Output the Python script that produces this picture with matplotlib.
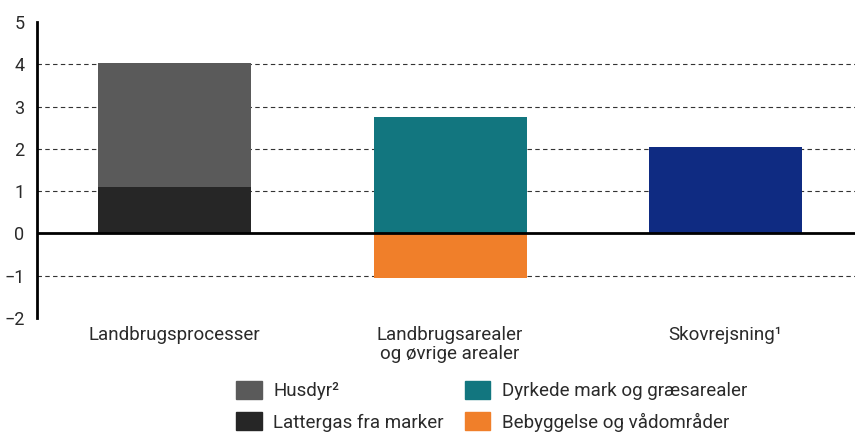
import numpy as np
import matplotlib.pyplot as plt
from matplotlib.patches import Patch

plt.rcParams['font.family'] = ['Roboto', 'DejaVu Sans']

categories = ['Landbrugsprocesser', 'Landbrugsarealer\nog øvrige arealer', 'Skovrejsning¹']
lattergas = [1.1, 0, 0]
husdyr = [2.93, 0, 0]
dyrkede = [0, 2.75, 0]
bebyggelse = [0, -1.05, 0]
skov = [0, 0, 2.05]

c_husdyr = '#5a5a5a'
c_latter = '#262626'
c_dyrk = '#12767f'
c_beb = '#f07f2a'
c_skov = '#0f2b82'

fig = plt.figure(figsize=(8.55, 4.32), dpi=100)
ax = fig.add_axes([0.0433, 0.264, 0.9567, 0.685])

x = np.arange(len(categories))
w = 0.555
ax.bar(x, lattergas, w, color=c_latter, zorder=3)
ax.bar(x, husdyr, w, bottom=lattergas, color=c_husdyr, zorder=3)
ax.bar(x, dyrkede, w, color=c_dyrk, zorder=3)
ax.bar(x, bebyggelse, w, color=c_beb, zorder=3)
ax.bar(x, skov, w, color=c_skov, zorder=3)

ax.set_ylim(-2, 5)
ax.set_xlim(-0.5, 2.47)
ax.set_yticks(range(-2, 6))
ax.set_xticks(x)
ax.set_xticklabels(categories, fontsize=13.5, color='#2a2a2a', linespacing=1.05)
ax.tick_params(axis='y', length=0, pad=9, labelsize=13, labelcolor='#2a2a2a')
ax.tick_params(axis='x', length=0, pad=6)

for v in [-1, 1, 2, 3, 4]:
    ax.axhline(v, color='#333333', lw=0.8, ls=(0, (4, 3)), zorder=1)
ax.axhline(0, color='black', lw=2, zorder=4)

for s in ['top', 'right', 'bottom']:
    ax.spines[s].set_visible(False)
ax.spines['left'].set_linewidth(2)

handles = [Patch(color=c_husdyr, label='Husdyr²'),
           Patch(color=c_latter, label='Lattergas fra marker'),
           Patch(color=c_dyrk, label='Dyrkede mark og græsarealer'),
           Patch(color=c_beb, label='Bebyggelse og vådområder')]
fig.legend(handles=handles, ncol=2, loc='center', bbox_to_anchor=(0.575, 0.06),
           frameon=False, fontsize=13.5, handlelength=1.37, handleheight=1.1,
           columnspacing=1.1, handletextpad=0.6, labelspacing=0.65,
           labelcolor='#2a2a2a', borderpad=0)

fig.savefig('out.png', dpi=100)
